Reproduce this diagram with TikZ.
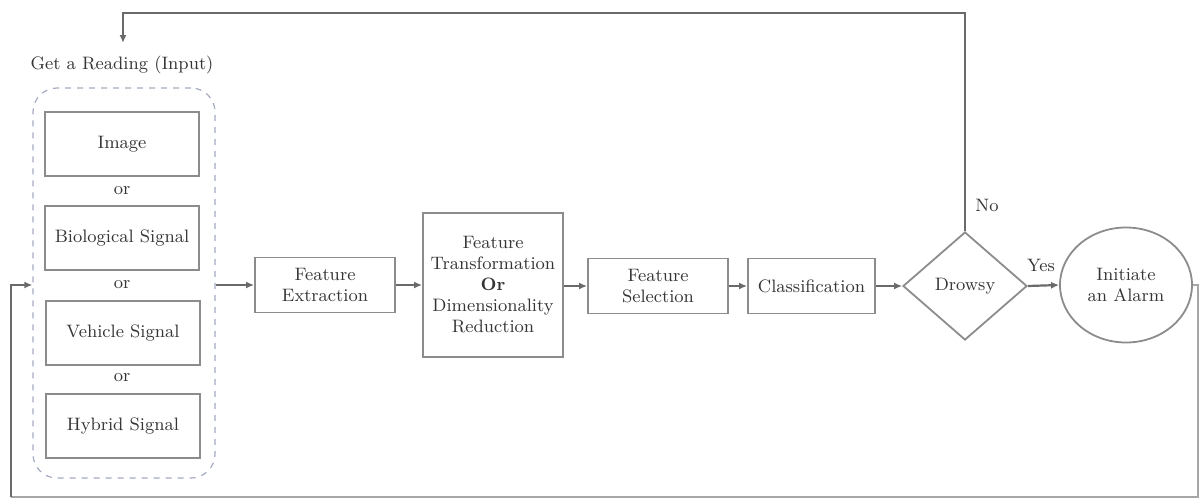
\documentclass[tikz,border=0pt]{standalone}
\usetikzlibrary{shapes.geometric,arrows.meta}
\definecolor{linegray}{HTML}{6A6A6A}
\definecolor{boxgray}{HTML}{8C8C8C}
\definecolor{txtgray}{HTML}{353535}
\definecolor{dashblue}{HTML}{A3AAC2}
\begin{document}
\begin{tikzpicture}[x=0.5pt,y=-0.5pt,
  every node/.style={font=\fontsize{9}{10.5}\selectfont, text=txtgray, align=center, inner sep=1pt},
  blk/.style={draw=boxgray, line width=0.9pt, rectangle, minimum width=70pt, minimum height=27.5pt},
  inbox/.style={draw=boxgray, line width=0.9pt, rectangle, minimum width=77pt, minimum height=32pt},
  conn/.style={draw=linegray, line width=1.1pt},
  arr/.style={conn, -{Latex[length=4pt,width=3.5pt]}}]
\useasboundingbox (0,0) rectangle (1200,498);
% input group
\node (title) at (122,65) {Get a Reading (Input)};
\node[draw=dashblue, dashed, line width=0.6pt, rounded corners=12pt, minimum width=91pt, minimum height=195pt] (group) at (124,283) {};
\node[inbox] (img) at (122,144) {Image};
\node (or1) at (122,191) {or};
\node[inbox] (bio) at (122,238) {Biological Signal};
\node (or2) at (122,285) {or};
\node[inbox] (veh) at (123,333) {Vehicle Signal};
\node (or3) at (122,378) {or};
\node[inbox] (hyb) at (123,426) {Hybrid Signal};
% pipeline
\node[blk] (fe) at (325,285) {Feature\\Extraction};
\node[blk, minimum height=72pt] (ft) at (493,285) {Feature\\Transformation\\\textbf{Or}\\Dimensionality\\Reduction};
\node[blk] (fs) at (658,286) {Feature\\Selection};
\node[blk, minimum width=63.5pt] (cls) at (811.5,286) {Classification};
\node[draw=boxgray, line width=0.9pt, diamond, aspect=1.15, minimum width=62pt, minimum height=54pt, inner sep=0pt] (dr) at (965,286) {Drowsy};
\node[draw=boxgray, line width=0.9pt, ellipse, minimum width=66pt, minimum height=57.5pt, inner sep=0pt] (al) at (1126,285) {Initiate\\an Alarm};
\node (no) at (987,205) {No};
\node (yes) at (1041,265) {Yes};
% coordinates
\coordinate (tr) at (965,13);
\coordinate (tl) at (123,13);
\coordinate (tend) at (123,43);
\coordinate (rr) at (1198,285);
\coordinate (br) at (1198,497);
\coordinate (bl) at (11,497);
\coordinate (lm) at (11,285);
% connectors
\draw[arr] (group.east |- fe.west) -- (fe.west);
\draw[arr] (fe.east) -- (ft.west);
\draw[arr] (ft.east |- fs.west) -- (fs.west);
\draw[arr] (fs.east) -- (cls.west);
\draw[arr] (cls.east) -- (dr.west);
\draw[arr] (dr.east) -- (al.west);
\draw[arr] (dr.north) -- (tr) -- (tl) -- (tend);
\draw[conn, draw=linegray!60] (al.east) -- (rr) -- (br) -- (bl);
\draw[arr] (bl) -- (lm) -- (group.west |- lm);
\end{tikzpicture}
\end{document}
